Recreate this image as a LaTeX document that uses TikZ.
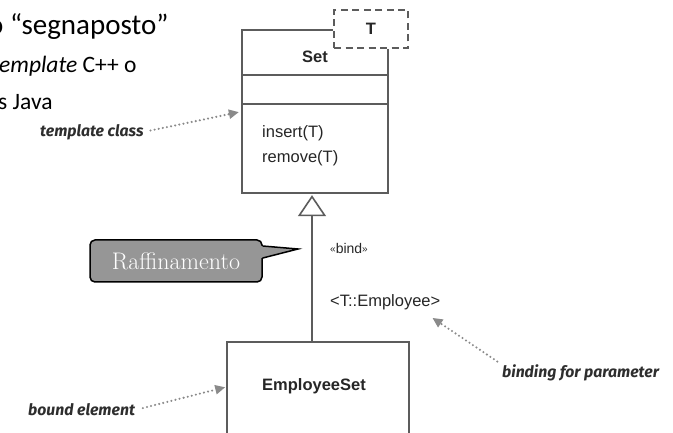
\documentclass[tikz,border=0pt]{standalone}
\usepackage{fontspec}
\usetikzlibrary{arrows.meta}
\newfontfamily\umlfont{Liberation Sans}
\newfontfamily\slidefont{Carlito}
\newfontfamily\handfont{Fira Sans}
\definecolor{umlgray}{HTML}{5C5C5C}
\definecolor{umltext}{HTML}{262626}
\definecolor{notetext}{HTML}{2E2E2E}
\definecolor{notegray}{HTML}{8A8A8A}
\definecolor{calloutgray}{HTML}{969696}
\begin{document}
\begin{tikzpicture}[x=1pt,y=-1pt,
  umlline/.style={draw=umlgray, line width=1.6pt},
  umllabel/.style={font=\umlfont\fontsize{16.5}{20}\selectfont, text=umltext, inner sep=0pt},
  umltitle/.style={font=\umlfont\bfseries\fontsize{16.5}{20}\selectfont, text=umltext, inner sep=0pt},
  tparbox/.style={draw=umlgray, line width=1.6pt, dash pattern=on 7pt off 4.5pt,
    minimum width=74pt, minimum height=38pt, inner sep=0pt,
    font=\umlfont\bfseries\fontsize{16.5}{20}\selectfont, text=umltext},
  frame/.style={inner sep=0pt, minimum width=#1},
  note/.style={font=\handfont\bfseries\itshape\fontsize{15.8}{19}\selectfont, text=notetext, inner sep=0pt},
  notearrow/.style={draw=notegray, line width=2.3pt, dash pattern=on 0pt off 4.2pt, line cap=round,
    -{Triangle[length=10pt, width=9pt, fill=notegray]}},
  calloutbox/.style={fill=calloutgray, draw=black, line width=1.5pt, rounded corners=5pt,
    minimum width=172pt, minimum height=42pt, inner sep=0pt, text=white,
    font=\fontsize{24}{28}\selectfont},
  slide/.style={font=\slidefont, text=black, inner sep=0pt, anchor=base west}
]
\useasboundingbox (0,0) rectangle (673,433);
\clip (0,0) rectangle (673,433);
\fill[white] (0,0) rectangle (673,433);

% slide text at the top left
\node[slide, font=\slidefont\fontsize{29}{34}\selectfont] (line1) at (-12,35) {o “segnaposto”};
\node[slide, font=\slidefont\fontsize{23.5}{28}\selectfont] (line2) at (-1,73) {\itshape emplate\upshape\ C++ o};
\node[slide, font=\slidefont\fontsize{23.5}{28}\selectfont] (line3) at (-2,110) {s Java};

% template class Set with its parameter T
\node[tparbox] (tpar) at (371,29) {T};
\node[frame=146pt, minimum height=163pt] (set) at (315,111.5) {};
\draw[umlline] (tpar.west |- set.north) -- (set.north west) -- (set.south west)
  -- (set.south east) -- (set.east |- tpar.south);
\draw[umlline] ([yshift=-45pt]set.north west) -- ([yshift=-45pt]set.north east);
\draw[umlline] ([yshift=-74pt]set.north west) -- ([yshift=-74pt]set.north east);
\node[umltitle] (setname) at (315,57) {Set};
\node[umllabel, anchor=west] (op1) at (262,133) {insert(T)};
\node[umllabel, anchor=west] (op2) at (262,158) {remove(T)};

% bound element EmployeeSet
\node[draw=umlgray, line width=1.6pt, frame=182pt, minimum height=130pt] (emp) at (318,407) {};
\node[umltitle] (empname) at (314,386) {EmployeeSet};

% bind relationship
\coordinate (gx) at (312,0);
\draw[umlline, -{Triangle[open, length=21pt, width=28pt, line width=1.6pt, fill=white]}]
  (emp.north -| gx) -- ([yshift=-2pt]set.south -| gx);
\node[umllabel, font=\umlfont\fontsize{14}{16}\selectfont, anchor=west] (bind) at (330,248)
  {\raisebox{1pt}{\fontsize{10}{12}\selectfont«}bind\raisebox{1pt}{\fontsize{10}{12}\selectfont»}};
\node[umllabel, anchor=west] (binding) at (330,302) {<T::Employee>};

% callout
\coordinate (tipc) at (298,249);
\node[calloutbox] (refine) at (176,261) {Raffinamento};
\fill[calloutgray] ([xshift=-2pt,yshift=15pt]refine.east) -- (tipc) -- ([xshift=-2pt,yshift=3pt]refine.east) -- cycle;
\draw[black, line width=1.5pt, line join=miter] ([yshift=15pt]refine.east) -- (tipc) -- ([yshift=3pt]refine.east);

% annotations
\node[note, anchor=west] (tmplnote) at (40,132) {template class};
\draw[notearrow, shorten <=7pt, shorten >=3pt] (tmplnote.east) -- (set.west);
\node[note, anchor=west] (boundnote) at (28,410) {bound element};
\draw[notearrow, shorten <=8pt, shorten >=1pt] (boundnote.east) -- ([yshift=20pt]emp.west);
\node[note, anchor=west] (bindnote) at (502,373) {binding for parameter};
\draw[notearrow, shorten <=2pt] ([xshift=-3pt,yshift=2pt]bindnote.north west) -- ([xshift=-8pt,yshift=-8pt]binding.south east);
\end{tikzpicture}
\end{document}
